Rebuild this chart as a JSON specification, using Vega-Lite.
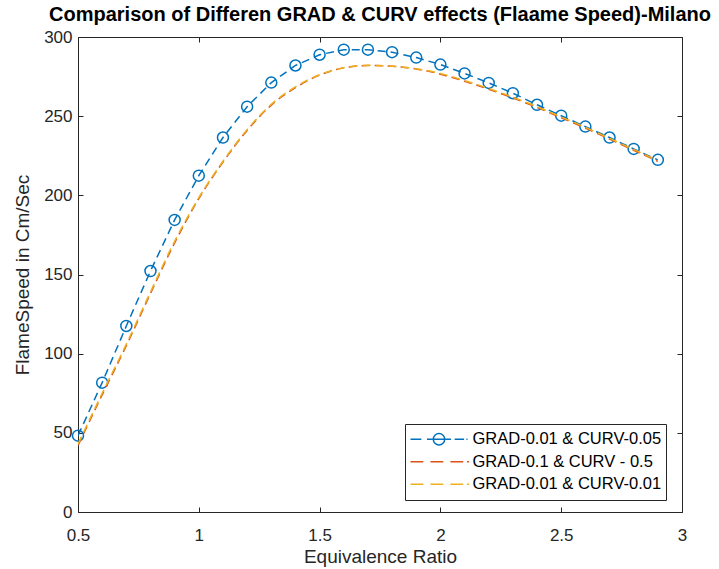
{
  "$schema": "https://vega.github.io/schema/vega-lite/v6.json",
  "width": 604,
  "height": 475,
  "autosize": {"type": "none"},
  "padding": {"left": 78, "top": 37, "right": 37, "bottom": 57},
  "background": "white",
  "title": {
    "text": "Comparison of Differen GRAD & CURV effects (Flaame Speed)-Milano",
    "font": "Liberation Sans",
    "fontSize": 20,
    "fontWeight": "bold",
    "color": "#000000",
    "anchor": "middle",
    "baseline": "alphabetic",
    "offset": -13
  },
  "config": {
    "view": {"stroke": null},
    "axis": {
      "grid": false,
      "domainColor": "#262626",
      "tickColor": "#262626",
      "labelColor": "#262626",
      "titleColor": "#262626",
      "labelFont": "Liberation Sans",
      "titleFont": "Liberation Sans",
      "labelFontSize": 17,
      "titleFontSize": 19,
      "titleFontWeight": "normal",
      "labelFlush": false,
      "tickSize": -5,
      "domainWidth": 1,
      "tickWidth": 1
    }
  },
  "datasets": {
    "all": [
      {"phi": 0.5, "speed": 48.2, "series": "GRAD-0.01 & CURV-0.05"},
      {"phi": 0.6, "speed": 81.7, "series": "GRAD-0.01 & CURV-0.05"},
      {"phi": 0.7, "speed": 117.5, "series": "GRAD-0.01 & CURV-0.05"},
      {"phi": 0.8, "speed": 152.2, "series": "GRAD-0.01 & CURV-0.05"},
      {"phi": 0.9, "speed": 184.5, "series": "GRAD-0.01 & CURV-0.05"},
      {"phi": 1.0, "speed": 212.4, "series": "GRAD-0.01 & CURV-0.05"},
      {"phi": 1.1, "speed": 236.5, "series": "GRAD-0.01 & CURV-0.05"},
      {"phi": 1.2, "speed": 256.0, "series": "GRAD-0.01 & CURV-0.05"},
      {"phi": 1.3, "speed": 271.2, "series": "GRAD-0.01 & CURV-0.05"},
      {"phi": 1.4, "speed": 282.0, "series": "GRAD-0.01 & CURV-0.05"},
      {"phi": 1.5, "speed": 288.8, "series": "GRAD-0.01 & CURV-0.05"},
      {"phi": 1.6, "speed": 292.0, "series": "GRAD-0.01 & CURV-0.05"},
      {"phi": 1.7, "speed": 292.0, "series": "GRAD-0.01 & CURV-0.05"},
      {"phi": 1.8, "speed": 290.4, "series": "GRAD-0.01 & CURV-0.05"},
      {"phi": 1.9, "speed": 287.0, "series": "GRAD-0.01 & CURV-0.05"},
      {"phi": 2.0, "speed": 282.6, "series": "GRAD-0.01 & CURV-0.05"},
      {"phi": 2.1, "speed": 277.0, "series": "GRAD-0.01 & CURV-0.05"},
      {"phi": 2.2, "speed": 271.0, "series": "GRAD-0.01 & CURV-0.05"},
      {"phi": 2.3, "speed": 264.5, "series": "GRAD-0.01 & CURV-0.05"},
      {"phi": 2.4, "speed": 257.2, "series": "GRAD-0.01 & CURV-0.05"},
      {"phi": 2.5, "speed": 250.3, "series": "GRAD-0.01 & CURV-0.05"},
      {"phi": 2.6, "speed": 243.4, "series": "GRAD-0.01 & CURV-0.05"},
      {"phi": 2.7, "speed": 236.5, "series": "GRAD-0.01 & CURV-0.05"},
      {"phi": 2.8, "speed": 229.3, "series": "GRAD-0.01 & CURV-0.05"},
      {"phi": 2.9, "speed": 222.4, "series": "GRAD-0.01 & CURV-0.05"},
      {"phi": 0.5, "speed": 42.0, "series": "GRAD-0.1 & CURV - 0.5"},
      {"phi": 0.6, "speed": 74.0, "series": "GRAD-0.1 & CURV - 0.5"},
      {"phi": 0.7, "speed": 105.0, "series": "GRAD-0.1 & CURV - 0.5"},
      {"phi": 0.8, "speed": 138.0, "series": "GRAD-0.1 & CURV - 0.5"},
      {"phi": 0.9, "speed": 170.0, "series": "GRAD-0.1 & CURV - 0.5"},
      {"phi": 1.0, "speed": 198.0, "series": "GRAD-0.1 & CURV - 0.5"},
      {"phi": 1.1, "speed": 221.0, "series": "GRAD-0.1 & CURV - 0.5"},
      {"phi": 1.2, "speed": 241.0, "series": "GRAD-0.1 & CURV - 0.5"},
      {"phi": 1.3, "speed": 257.0, "series": "GRAD-0.1 & CURV - 0.5"},
      {"phi": 1.4, "speed": 268.0, "series": "GRAD-0.1 & CURV - 0.5"},
      {"phi": 1.5, "speed": 276.0, "series": "GRAD-0.1 & CURV - 0.5"},
      {"phi": 1.6, "speed": 280.5, "series": "GRAD-0.1 & CURV - 0.5"},
      {"phi": 1.7, "speed": 282.0, "series": "GRAD-0.1 & CURV - 0.5"},
      {"phi": 1.8, "speed": 281.5, "series": "GRAD-0.1 & CURV - 0.5"},
      {"phi": 1.9, "speed": 279.8, "series": "GRAD-0.1 & CURV - 0.5"},
      {"phi": 2.0, "speed": 276.5, "series": "GRAD-0.1 & CURV - 0.5"},
      {"phi": 2.1, "speed": 272.0, "series": "GRAD-0.1 & CURV - 0.5"},
      {"phi": 2.2, "speed": 267.0, "series": "GRAD-0.1 & CURV - 0.5"},
      {"phi": 2.3, "speed": 261.5, "series": "GRAD-0.1 & CURV - 0.5"},
      {"phi": 2.4, "speed": 255.5, "series": "GRAD-0.1 & CURV - 0.5"},
      {"phi": 2.5, "speed": 249.0, "series": "GRAD-0.1 & CURV - 0.5"},
      {"phi": 2.6, "speed": 242.5, "series": "GRAD-0.1 & CURV - 0.5"},
      {"phi": 2.7, "speed": 235.5, "series": "GRAD-0.1 & CURV - 0.5"},
      {"phi": 2.8, "speed": 228.5, "series": "GRAD-0.1 & CURV - 0.5"},
      {"phi": 2.9, "speed": 221.5, "series": "GRAD-0.1 & CURV - 0.5"},
      {"phi": 0.5, "speed": 43.0, "series": "GRAD-0.01 & CURV-0.01"},
      {"phi": 0.6, "speed": 75.0, "series": "GRAD-0.01 & CURV-0.01"},
      {"phi": 0.7, "speed": 106.0, "series": "GRAD-0.01 & CURV-0.01"},
      {"phi": 0.8, "speed": 139.0, "series": "GRAD-0.01 & CURV-0.01"},
      {"phi": 0.9, "speed": 171.0, "series": "GRAD-0.01 & CURV-0.01"},
      {"phi": 1.0, "speed": 198.5, "series": "GRAD-0.01 & CURV-0.01"},
      {"phi": 1.1, "speed": 221.5, "series": "GRAD-0.01 & CURV-0.01"},
      {"phi": 1.2, "speed": 241.5, "series": "GRAD-0.01 & CURV-0.01"},
      {"phi": 1.3, "speed": 257.5, "series": "GRAD-0.01 & CURV-0.01"},
      {"phi": 1.4, "speed": 268.5, "series": "GRAD-0.01 & CURV-0.01"},
      {"phi": 1.5, "speed": 276.2, "series": "GRAD-0.01 & CURV-0.01"},
      {"phi": 1.6, "speed": 280.6, "series": "GRAD-0.01 & CURV-0.01"},
      {"phi": 1.7, "speed": 282.1, "series": "GRAD-0.01 & CURV-0.01"},
      {"phi": 1.8, "speed": 281.6, "series": "GRAD-0.01 & CURV-0.01"},
      {"phi": 1.9, "speed": 280.0, "series": "GRAD-0.01 & CURV-0.01"},
      {"phi": 2.0, "speed": 277.0, "series": "GRAD-0.01 & CURV-0.01"},
      {"phi": 2.1, "speed": 272.5, "series": "GRAD-0.01 & CURV-0.01"},
      {"phi": 2.2, "speed": 267.5, "series": "GRAD-0.01 & CURV-0.01"},
      {"phi": 2.3, "speed": 262.0, "series": "GRAD-0.01 & CURV-0.01"},
      {"phi": 2.4, "speed": 256.0, "series": "GRAD-0.01 & CURV-0.01"},
      {"phi": 2.5, "speed": 249.5, "series": "GRAD-0.01 & CURV-0.01"},
      {"phi": 2.6, "speed": 243.0, "series": "GRAD-0.01 & CURV-0.01"},
      {"phi": 2.7, "speed": 236.0, "series": "GRAD-0.01 & CURV-0.01"},
      {"phi": 2.8, "speed": 229.0, "series": "GRAD-0.01 & CURV-0.01"},
      {"phi": 2.9, "speed": 222.0, "series": "GRAD-0.01 & CURV-0.01"}
    ]
  },
  "data": {"name": "all"},
  "resolve": {"axis": {"x": "independent", "y": "independent"}},
  "layer": [
    {
      "transform": [{"filter": "datum.series === 'GRAD-0.01 & CURV-0.05'"}],
      "mark": {"type": "line", "color": "#0072BD", "strokeDash": [8, 5], "strokeWidth": 1.5, "clip": true},
      "encoding": {
        "x": {"field": "phi", "type": "quantitative", "scale": {"domain": [0.5, 3], "nice": false, "zero": false},
          "axis": {"orient": "bottom", "values": [0.5, 1, 1.5, 2, 2.5, 3], "format": "~g", "title": "Equivalence Ratio", "labelPadding": 20, "titlePadding": 4}},
        "y": {"field": "speed", "type": "quantitative", "scale": {"domain": [0, 300], "nice": false, "zero": false},
          "axis": {"orient": "left", "values": [0, 50, 100, 150, 200, 250, 300], "title": "FlameSpeed in Cm/Sec", "labelPadding": 11, "titlePadding": 11}}
      }
    },
    {
      "transform": [{"filter": "datum.series === 'GRAD-0.01 & CURV-0.05'"}],
      "mark": {"type": "point", "shape": "circle", "filled": false, "color": "#0072BD", "size": 121, "strokeWidth": 1.5, "opacity": 1},
      "encoding": {
        "x": {"field": "phi", "type": "quantitative", "axis": {"orient": "top", "values": [0.5, 1, 1.5, 2, 2.5, 3], "labels": false, "title": null}},
        "y": {"field": "speed", "type": "quantitative", "axis": {"orient": "right", "values": [0, 50, 100, 150, 200, 250, 300], "labels": false, "title": null}}
      }
    },
    {
      "transform": [{"filter": "datum.series === 'GRAD-0.1 & CURV - 0.5'"}],
      "mark": {"type": "line", "color": "#D95319", "strokeDash": [8, 5], "strokeWidth": 1.5, "interpolate": "monotone", "clip": true},
      "encoding": {
        "x": {"field": "phi", "type": "quantitative", "axis": null},
        "y": {"field": "speed", "type": "quantitative", "axis": null}
      }
    },
    {
      "transform": [{"filter": "datum.series === 'GRAD-0.01 & CURV-0.01'"}],
      "mark": {"type": "line", "color": "#EDB120", "strokeDash": [8, 5], "strokeWidth": 1.5, "interpolate": "monotone", "clip": true},
      "encoding": {
        "x": {"field": "phi", "type": "quantitative", "axis": null},
        "y": {"field": "speed", "type": "quantitative", "axis": null}
      }
    },
    {
      "mark": {"type": "point", "filled": false, "opacity": 0, "strokeWidth": 1.5},
      "encoding": {
        "x": {"field": "phi", "type": "quantitative", "axis": null},
        "y": {"field": "speed", "type": "quantitative", "axis": null},
        "color": {"field": "series", "type": "nominal",
          "scale": {"domain": ["GRAD-0.01 & CURV-0.05", "GRAD-0.1 & CURV - 0.5", "GRAD-0.01 & CURV-0.01"], "range": ["#0072BD", "#D95319", "#EDB120"]},
          "legend": {"orient": "none", "legendX": 327, "legendY": 387, "title": null, "symbolSize": 3249, "clipHeight": 21.5, "rowPadding": 0.5, "padding": 4.5, "strokeColor": "#262626", "fillColor": "white", "labelFont": "Liberation Sans", "labelFontSize": 16.5, "labelColor": "#000000", "labelOffset": 4, "labelLimit": 0, "symbolStrokeWidth": 1.5, "symbolFillColor": "transparent", "symbolOpacity": 1}},
        "shape": {"field": "series", "type": "nominal",
          "scale": {"domain": ["GRAD-0.01 & CURV-0.05", "GRAD-0.1 & CURV - 0.5", "GRAD-0.01 & CURV-0.01"],
            "range": ["M-1,0H-0.62M-0.42,0H0.42M0.55,0H0.88M0.96,0H1M0.2,0A0.2,0.2,0,1,1,-0.2,0A0.2,0.2,0,1,1,0.2,0", "M-1,0H-0.55M-0.3,0H0.15M0.4,0H0.85M0.98,0H1.05", "M-1,0H-0.55M-0.3,0H0.15M0.4,0H0.85M0.98,0H1.05"]},
          "legend": {"orient": "none", "legendX": 327, "legendY": 387, "title": null, "symbolSize": 3249, "clipHeight": 21.5, "rowPadding": 0.5, "padding": 4.5, "strokeColor": "#262626", "fillColor": "white", "labelFont": "Liberation Sans", "labelFontSize": 16.5, "labelColor": "#000000", "labelOffset": 4, "labelLimit": 0, "symbolStrokeWidth": 1.5, "symbolFillColor": "transparent", "symbolOpacity": 1}}
      }
    }
  ]
}
